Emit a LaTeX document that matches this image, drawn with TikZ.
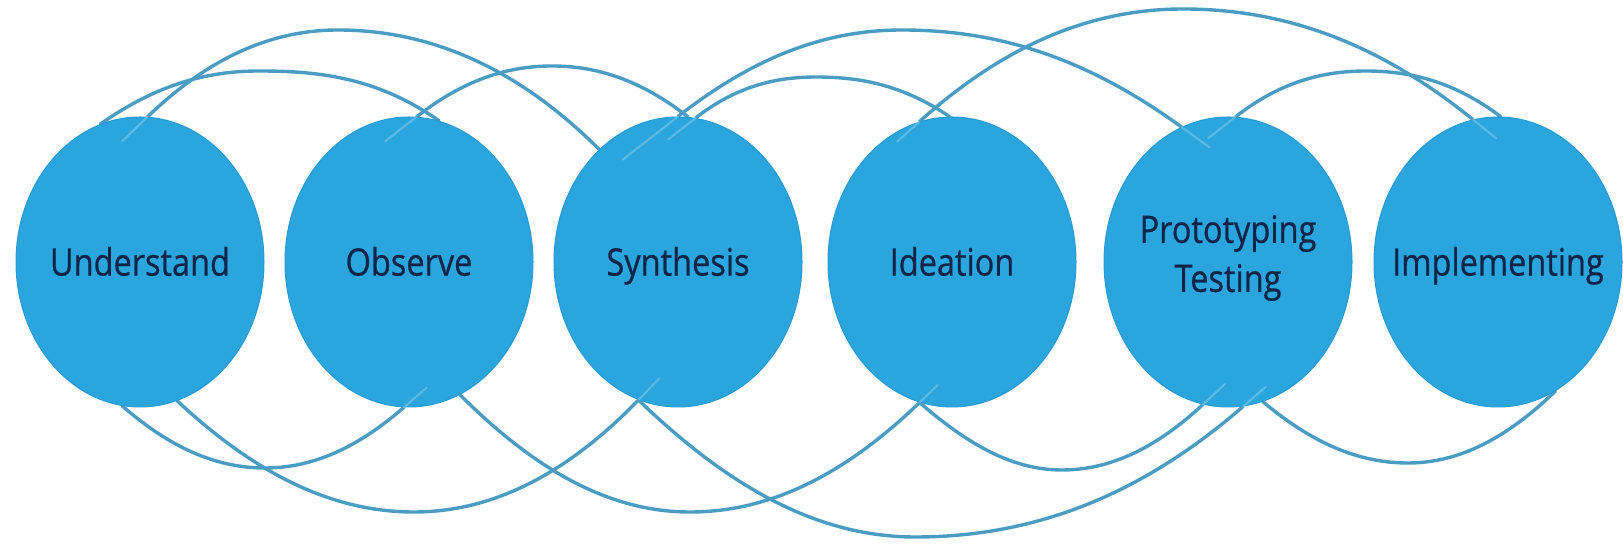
\documentclass[tikz,border=0pt]{standalone}
\usepackage{fontspec}
\newfontfamily\stagefont{Open Sans}[FakeStretch=0.86,FakeBold=0.6]
\usetikzlibrary{shapes.geometric,backgrounds}
\definecolor{stagefill}{HTML}{2AA5DE}
\definecolor{stageedge}{HTML}{279AD2}
\definecolor{loopline}{HTML}{4B9CC2}
\definecolor{stagetext}{HTML}{0F2446}
\begin{document}
\begin{tikzpicture}[x=0.5pt,y=0.5pt,
  stage/.style={ellipse, fill=stagefill, draw=stageedge, line width=0.5pt,
    minimum width=124pt, minimum height=145pt, inner sep=0pt},
  stagefont/.style={font=\stagefont\fontsize{18.9pt}{24.5pt}\selectfont, text=stagetext, inner sep=0pt},
  oneline/.style={stagefont, text height=13.6pt, text depth=0pt},
  twoline/.style={stagefont, align=center, yshift=2pt},
  loop/.style={draw=loopline, line width=1.7pt, line cap=round},
  ghost/.style={draw=white, opacity=0.25, line width=1pt, line cap=round},
  rise/.style={in=180, in looseness=0.8, out looseness=1.05, out=#1},
  fall/.style={out=0, out looseness=0.8, in looseness=1.05, in=#1}]
\useasboundingbox (0,0) rectangle (1623,545);

\node[stage, label={[oneline]center:Understand}] (und) at (140,283) {};
\node[stage, label={[oneline]center:Observe}] (obs) at (409,283) {};
\node[stage, label={[oneline]center:Synthesis}] (syn) at (678,283) {};
\node[stage, label={[oneline]center:Ideation}] (ide) at (952,283) {};
\node[stage, label={[twoline]center:Prototyping\\Testing}] (pro) at (1228,283) {};
\node[stage, label={[oneline]center:Implementing}] (imp) at (1498,283) {};

\coordinate (pA) at (338,515);
\coordinate (pB) at (259,474);
\coordinate (pC) at (552,479);
\coordinate (pD) at (902,515);
\coordinate (pE) at (816,468);
\coordinate (pF) at (1183,536);
\coordinate (pG) at (1366,474);
\coordinate (pH) at (265,77);
\coordinate (pI) at (414,33);
\coordinate (pJ) at (690,33);
\coordinate (pK) at (915,8);
\coordinate (pL) at (1062,75);
\coordinate (pM) at (1408,82);

\begin{scope}[on background layer]
\fill[white] (0,0) rectangle (1623,545);
% upper loops
\draw[loop] (und.87) to[rise=44] (pA) to[fall=135] (syn.125);
\draw[loop] (und.106) to[rise=35] (pB) to[fall=145] (obs.78);
\draw[loop] (obs.87) to[rise=38] (pC) to[fall=142] (syn.86);
\draw[loop] (syn.90) to[rise=38] (pD) to[fall=144] (pro.109);
\draw[loop] (syn.83) to[rise=38] (pE) to[fall=146] (ide.91);
\draw[loop] (ide.103) to[rise=42] (pF) to[fall=141] (imp.100);
\draw[loop] (pro.87) to[rise=38] (pG) to[fall=143] (imp.89);
% lower loops
\draw[loop] (und.-97) to[rise=-41] (pH) to[fall=-139] (obs.-92);
\draw[loop] (und.-75) to[rise=-43] (pI) to[fall=-134] (syn.-106);
\draw[loop] (obs.-69) to[rise=-45] (pJ) to[fall=-136] (ide.-103);
\draw[loop] (syn.-106) to[rise=-44] (pK) to[fall=-139] (pro.-84);
\draw[loop] (ide.-103) to[rise=-41] (pL) to[fall=-137] (pro.-100);
\draw[loop] (pro.-76) to[rise=-40] (pM) to[fall=-136] (imp.-66);
\end{scope}

% faint traces of the loops inside the circles
\draw[ghost] (und.87) -- ++(224:35);
\draw[ghost] (obs.87) -- ++(218:40);
\draw[ghost] (syn.90) -- ++(218:70);
\draw[ghost] (syn.83) -- ++(218:35);
\draw[ghost] (ide.103) -- ++(222:30);
\draw[ghost] (pro.87) -- ++(218:35);
\draw[ghost] (pro.109) -- ++(324:35);
\draw[ghost] (imp.100) -- ++(321:30);
\draw[ghost] (obs.-92) -- ++(41:30);
\draw[ghost] (syn.-106) -- ++(46:30);
\draw[ghost] (ide.-103) -- ++(44:25);
\draw[ghost] (pro.-84) -- ++(41:30);
\draw[ghost] (pro.-100) -- ++(43:30);
\end{tikzpicture}
\end{document}
